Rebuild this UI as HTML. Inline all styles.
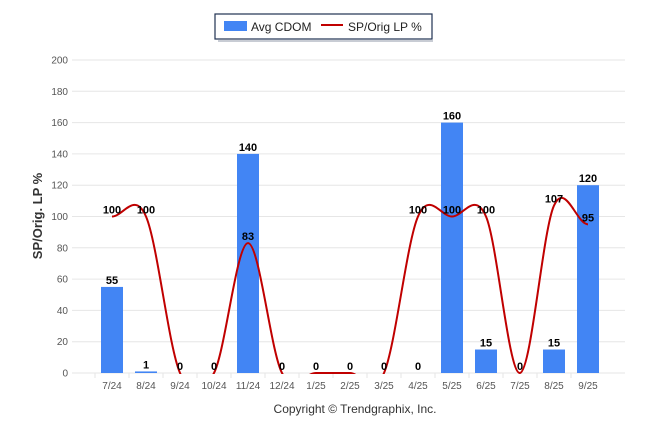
<!DOCTYPE html>
<html><head><meta charset="utf-8"><style>
body{margin:0;background:#fff;font-family:"Liberation Sans",Arial,sans-serif}
svg text{font-family:"Liberation Sans",Arial,sans-serif}
</style></head><body>
<svg id="c" width="646" height="434" xmlns="http://www.w3.org/2000/svg">
<defs><clipPath id="plotclip"><rect x="70" y="40" width="560" height="334"/></clipPath></defs>
<g>
<rect x="215" y="14" width="217" height="25" fill="#fff" stroke="#1f3152" stroke-width="1.2"/>
<line x1="218" y1="41" x2="433" y2="41" stroke="#c8ccd4" stroke-width="2"/>
<rect x="224" y="21" width="23" height="10" fill="#4285f4"/>
<text x="251" y="31" font-size="12" fill="#222">Avg CDOM</text>
<line x1="321" y1="25" x2="343" y2="25" stroke="#c00000" stroke-width="2"/>
<text x="348" y="31" font-size="12" fill="#222">SP/Orig LP %</text>
</g>
<text x="0" y="0" transform="translate(42,216) rotate(-90)" text-anchor="middle" font-size="13" font-weight="bold" fill="#333">SP/Orig. LP %</text>
<text x="355" y="413" text-anchor="middle" font-size="12" fill="#333">Copyright © Trendgraphix, Inc.</text>
<g id="grid"></g><g id="bars"></g><g id="line" clip-path="url(#plotclip)"></g><g id="labels"></g>
</svg>
<script>
const categories=["7/24","8/24","9/24","10/24","11/24","12/24","1/25","2/25","3/25","4/25","5/25","6/25","7/25","8/25","9/25"];
const cdom=[55,1,0,0,140,0,0,0,0,0,160,15,0,15,120];
const lp=[100,100,0,0,83,0,0,0,0,100,100,100,0,107,95];
const yTicks=[0,20,40,60,80,100,120,140,160,180,200];
const NS="http://www.w3.org/2000/svg";
const x0=112,step=34,yb=373,yt=60;
const X=i=>x0+i*step;
const Y=v=>yb-(v/200)*(yb-yt);
function mk(t,a,p){const e=document.createElementNS(NS,t);for(const k in a)e.setAttribute(k,a[k]);p.appendChild(e);return e;}
const g=document.getElementById('grid');
yTicks.forEach(v=>{
 const l=mk('line',{x1:72,x2:625,y1:Y(v),y2:Y(v),stroke:'#e6e6e6','stroke-width':1},g);
 
 
 const t=mk('text',{x:68,y:Y(v)+3.5,'text-anchor':'end','font-size':'10',fill:'#555'},g);t.textContent=v;
 
 
});
categories.forEach((c,i)=>{
 const t=mk('text',{x:X(i),y:389,'text-anchor':'middle','font-size':'10',fill:'#555'},g);t.textContent=c;
 
 
 mk('line',{x1:X(i)-17,x2:X(i)-17,y1:yb,y2:yb+5,stroke:'#e6e6e6'},g);
});
const b=document.getElementById('bars'),lb=document.getElementById('labels');
cdom.forEach((v,i)=>{
 const r=mk('rect',{x:X(i)-11,y:Y(v),width:22,height:yb-Y(v),fill:'#4285f4'},b);
 
 
 const t=mk('text',{x:X(i),y:Y(v)-3,'text-anchor':'middle','font-size':'11','font-weight':'bold',fill:'#000'},lb);t.textContent=v;
 
 
});
let d='M'+X(0)+','+Y(lp[0]);
for(let i=0;i<lp.length-1;i++){
 const p0=lp[Math.max(0,i-1)],p1=lp[i],p2=lp[i+1],p3=lp[Math.min(lp.length-1,i+2)];
 const m1=i==0?0:(p2-p0)/2, m2=i+1==lp.length-1?0:(p3-p1)/2;
 d+=' C'+(X(i)+step/3)+','+Y(p1+m1/3)+' '+(X(i+1)-step/3)+','+Y(p2-m2/3)+' '+X(i+1)+','+Y(p2);
}
const path=mk('path',{d:d,fill:'none',stroke:'#c00000','stroke-width':2},document.getElementById('line'));


lp.forEach((v,i)=>{
 if(v===0)return;
 const t=mk('text',{x:X(i),y:Y(v)-3,'text-anchor':'middle','font-size':'11','font-weight':'bold',fill:'#000'},lb);t.textContent=v;
 
 
});
</script>
</body></html>
